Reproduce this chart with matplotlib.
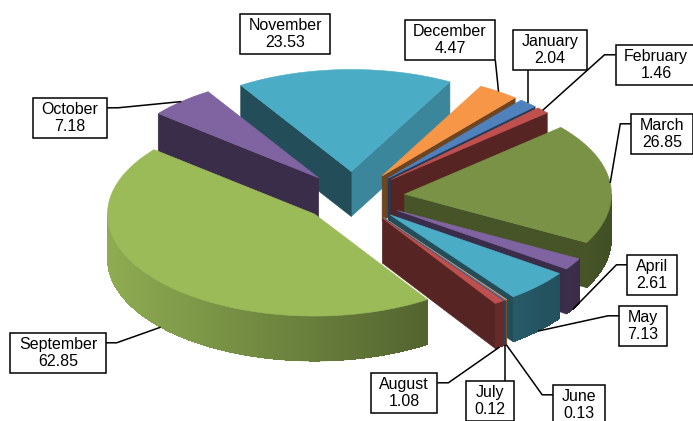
import numpy as np
import matplotlib
matplotlib.use("Agg")
import matplotlib.pyplot as plt
import matplotlib.colors as mcolors
from matplotlib.patches import Polygon, Rectangle

plt.rcParams['font.family'] = ['Liberation Sans', 'DejaVu Sans']

# data
months = ['January', 'February', 'March', 'April', 'May', 'June', 'July',
          'August', 'September', 'October', 'November', 'December']
values = [2.04, 1.46, 26.85, 2.61, 7.13, 0.13, 0.12, 1.08, 62.85, 7.18, 23.53, 4.47]

# Excel 2007 series colours, cycled
palette = ['#4F81BD', '#C0504D', '#9BBB59', '#8064A2', '#4BACC6', '#F79646']
colors = [palette[i % len(palette)] for i in range(len(months))]
top_shade = {'March': 0.78}

# layout in pixels
W, H = 693, 421
cx, cy = 353, 197          # pie centre on screen
rx, ry = 207, 102          # projected radii
thick = 45                 # slice height
explode = 0.25
start = 40                 # first slice edge, degrees clockwise from back

# label box centres and where the leader line joins the box
label_xy = [(550, 50), (656, 65), (662, 134), (652, 275), (643, 326), (579, 405),
            (490, 401), (404, 393), (58, 353), (70, 118), (285, 34), (450, 40)]
label_attach = ['bottom', 'left', 'left', 'left', 'left', 'left',
                'top', 'right', 'right', 'right', None, 'bottom']


def to_screen(wx, wy, dz=0.0):
    return (cx + rx * wx, cy - ry * wy + dz)


def unit(a):
    r = np.radians(a)
    return np.sin(r), np.cos(r)


def side_shade(t):
    # outer wall: lit from the left, darker towards the right
    return 0.42 + 0.5 * (1 - np.sin(np.radians(t))) / 2


fig = plt.figure(figsize=(W / 100, H / 100), dpi=100)
ax = fig.add_axes([0, 0, 1, 1])
ax.set_xlim(0, W)
ax.set_ylim(H, 0)
ax.axis('off')

total = sum(values)
spans = [v / total * 360 for v in values]
edges = start + np.concatenate([[0], np.cumsum(spans)])

side_faces = []   # (depth, points, colour, smooth edge)
top_faces = []
anchors = []
for i, name in enumerate(months):
    a0, a1 = edges[i], edges[i + 1]
    mid = (a0 + a1) / 2
    ux, uy = unit(mid)
    ox, oy = explode * ux, explode * uy
    base = np.array(mcolors.to_rgb(colors[i]))

    # top face
    ts = np.linspace(a0, a1, max(3, int(spans[i] * 2) + 2))
    arc = [(ox + unit(t)[0], oy + unit(t)[1]) for t in ts]
    pts = [to_screen(ox, oy)] + [to_screen(*p) for p in arc]
    depth = np.mean([oy] + [p[1] for p in arc])
    top_faces.append((depth, pts, np.clip(base * top_shade.get(name, 1.0), 0, 1)))

    # outer curved side, only the front half shows
    lo, hi = max(a0, 90), min(a1, 270)
    if hi > lo:
        n = max(2, int((hi - lo) / 1.5) + 1)
        tt = np.linspace(lo, hi, n + 1)
        rim_pts = [(ox + unit(t)[0], oy + unit(t)[1]) for t in tt]
        under = [to_screen(*p) for p in rim_pts] + \
                [to_screen(*p, thick) for p in rim_pts[::-1]]
        deepest = max(p[1] for p in rim_pts)
        side_faces.append((deepest + 1e-6, under,
                           base * side_shade((lo + hi) / 2), True))
        for k in range(n):
            t1, t2 = tt[k], tt[k + 1]
            p1, p2 = rim_pts[k], rim_pts[k + 1]
            quad = [to_screen(*p1), to_screen(*p2),
                    to_screen(*p2, thick), to_screen(*p1, thick)]
            tm = (t1 + t2) / 2
            side_faces.append((oy + unit(tm)[1], quad, base * side_shade(tm), False))

    # flat radial sides
    for a, nrm in ((a0, a0 - 90), (a1, a1 + 90)):
        if np.cos(np.radians(nrm)) < 0:
            r = (ox + unit(a)[0], oy + unit(a)[1])
            quad = [to_screen(ox, oy), to_screen(*r),
                    to_screen(*r, thick), to_screen(ox, oy, thick)]
            nd = nrm % 360
            f = 0.78 if nd < 125 else 0.45
            side_faces.append(((oy + r[1]) / 2, quad, base * f, True))

    # leader anchor on the rim at mid angle
    rim = (ox + ux, oy + uy)
    anchors.append(to_screen(*rim, 0 if uy > 0 else thick))

for depth, pts, col, smooth in sorted(side_faces, key=lambda f: -f[0]):
    if smooth:
        ax.add_patch(Polygon(pts, closed=True, fc=col, ec=col, lw=0.4, zorder=2))
    else:
        ax.add_patch(Polygon(pts, closed=True, fc=col, ec='none', lw=0,
                             antialiased=False, zorder=2))
for depth, pts, col in sorted(top_faces, key=lambda f: -f[0]):
    ax.add_patch(Polygon(pts, closed=True, fc=col, ec=col, lw=0.4, zorder=3))

# labels
texts = []
for i, name in enumerate(months):
    t = ax.text(label_xy[i][0], label_xy[i][1], f'{name}\n{values[i]:.2f}',
                ha='center', va='center', multialignment='center',
                fontsize=11.5, color='black', zorder=8)
    texts.append(t)

fig.canvas.draw()
renderer = fig.canvas.get_renderer()
inv = ax.transData.inverted()
padx, pady = 8.5, 4
for i, t in enumerate(texts):
    bb = t.get_window_extent(renderer)
    (x0, y0), (x1, y1) = inv.transform([[bb.x0, bb.y0], [bb.x1, bb.y1]])
    bx0, bx1 = min(x0, x1) - padx, max(x0, x1) + padx
    by0, by1 = min(y0, y1) - pady, max(y0, y1) + pady
    ax.add_patch(Rectangle((bx0, by0), bx1 - bx0, by1 - by0, fc='white',
                           ec='black', lw=1.1, zorder=7))
    axx, axy = anchors[i]
    mode = label_attach[i]
    if mode == 'left':
        line = [(axx, axy), (bx0 - 11, by0 + 10), (bx0, by0 + 10)]
    elif mode == 'right':
        line = [(axx, axy), (bx1 + 11, by0 + 10), (bx1, by0 + 10)]
    elif mode == 'bottom':
        line = [(axx, axy), (np.clip(axx, bx0, bx1), by1)]
    elif mode == 'top':
        line = [(axx, axy), (np.clip(axx, bx0, bx1), by0)]
    else:
        continue
    xs, ys = zip(*line)
    ax.plot(xs, ys, color='black', lw=1.1, zorder=6, solid_capstyle='butt')

fig.savefig('out.png', dpi=100)
